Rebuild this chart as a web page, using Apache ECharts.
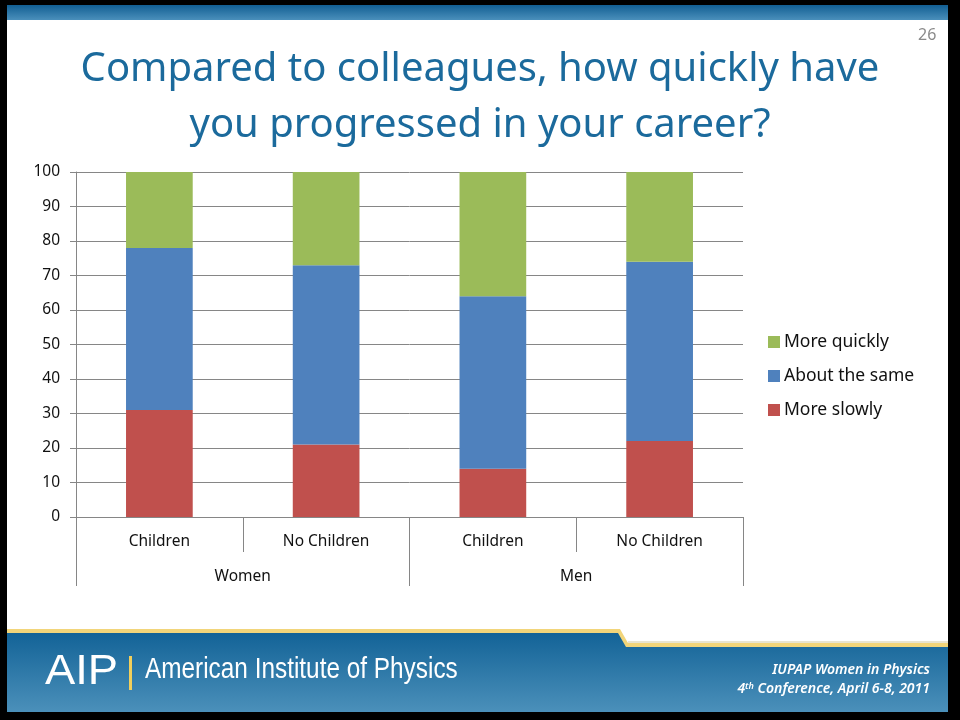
<!DOCTYPE html>
<html>
<head>
<meta charset="utf-8">
<script src="https://cdn.jsdelivr.net/npm/echarts@6/dist/echarts.min.js"></script>
<style>
html,body{margin:0;padding:0;background:#000;}
#c{width:960px;height:720px;}
</style>
</head>
<body>
<div id="c"></div>
<script>
var categories = ['Children', 'No Children', 'Children', 'No Children'];
var groups = ['Women', 'Men'];
var moreSlowly = [31, 21, 14, 22];
var aboutSame = [47, 52, 50, 52];
var moreQuickly = [22, 27, 36, 26];
var yTicks = [0, 10, 20, 30, 40, 50, 60, 70, 80, 90, 100];

var chart = echarts.init(document.getElementById('c'));
var axisGray = '#868686';
var font = "'Noto Sans', 'Open Sans', sans-serif";

var option = {
  backgroundColor: '#000',
  animation: false,
  grid: { left: 76, right: 217, top: 172, bottom: 203, containLabel: false },
  legend: {
    orient: 'vertical',
    left: 763,
    top: 328,
    itemWidth: 12,
    itemHeight: 12,
    itemGap: 16,
    icon: 'rect',
    data: ['More quickly', 'About the same', 'More slowly'],
    textStyle: { fontSize: 17.5, color: '#111', fontFamily: font, padding: [0, 0, 0, -1] }
  },
  xAxis: [
    {
      type: 'category',
      data: categories,
      axisLine: { show: true, lineStyle: { color: axisGray } },
      axisTick: { show: true, length: 35, interval: 0, lineStyle: { color: axisGray } },
      axisLabel: { margin: 17, fontSize: 15.5, color: '#111', fontFamily: font, interval: 0 }
    },
    {
      type: 'category',
      data: groups,
      position: 'bottom',
      offset: 35,
      axisLine: { show: false },
      axisTick: { show: true, length: 34, interval: 0, lineStyle: { color: axisGray } },
      axisLabel: { margin: 17, fontSize: 15.5, color: '#111', fontFamily: font, interval: 0 }
    }
  ],
  yAxis: {
    type: 'value',
    min: yTicks[0],
    max: yTicks[yTicks.length - 1],
    interval: 10,
    axisLine: { show: true, lineStyle: { color: axisGray } },
    axisTick: { show: true, length: 6, lineStyle: { color: axisGray } },
    axisLabel: { margin: 16, fontSize: 15.5, color: '#111', fontFamily: font },
    splitLine: { show: true, lineStyle: { color: axisGray, width: 1 } }
  },
  series: [
    { name: 'More slowly', type: 'bar', stack: 't', data: moreSlowly, barWidth: '40%', itemStyle: { color: '#C0504D' } },
    { name: 'About the same', type: 'bar', stack: 't', data: aboutSame, barWidth: '40%', itemStyle: { color: '#4F81BD' } },
    { name: 'More quickly', type: 'bar', stack: 't', data: moreQuickly, barWidth: '40%', itemStyle: { color: '#9BBB59' } }
  ],
  graphic: [
    { type: 'rect', z: -10, shape: { x: 7, y: 5, width: 941, height: 707 }, style: { fill: '#fff' }, silent: true },
    { type: 'rect', z: -9, shape: { x: 7, y: 5, width: 941, height: 15 },
      style: { fill: new echarts.graphic.LinearGradient(0, 0, 0, 1, [{ offset: 0, color: '#125f93' }, { offset: 1, color: '#4a8fbb' }]) }, silent: true },
    { type: 'polygon', z: -9, shape: { points: [[628, 641], [948, 641], [948, 650], [628, 650]] },
      style: { fill: '#e9e4d0' }, silent: true },
    { type: 'polygon', z: -9, shape: { points: [[7, 629], [620, 629], [628, 643], [948, 643], [948, 712], [7, 712]] },
      style: { fill: '#F2D57A' }, silent: true },
    { type: 'polygon', z: -8, shape: { points: [[7, 633], [618, 633], [626, 647], [948, 647], [948, 712], [7, 712]] },
      style: { fill: new echarts.graphic.LinearGradient(0, 0, 0, 1, [{ offset: 0, color: '#136397' }, { offset: 1, color: '#4b90ba' }]) }, silent: true },
    { type: 'text', left: 'center', top: 42, z: 5,
      style: { text: 'Compared to colleagues, how quickly have\nyou progressed in your career?', fill: '#1B6A9C', font: "40px 'Noto Sans', sans-serif", textAlign: 'center', lineHeight: 56 } },
    { type: 'text', left: 918, top: 27, z: 5, style: { text: '26', fill: '#8a8a8a', font: "16px 'Noto Sans', sans-serif" } },
    { type: 'text', x: 45, y: 651, scaleX: 1.08, z: 5, style: { text: 'AIP', fill: '#fff', font: "42px 'Liberation Sans', sans-serif" } },
    { type: 'rect', z: 5, shape: { x: 129, y: 656, width: 3, height: 34 }, style: { fill: '#F2CF5B' } },
    { type: 'text', x: 145, y: 655, scaleX: 0.84, z: 5, style: { text: 'American Institute of Physics', fill: '#fff', font: "29px 'Liberation Sans', sans-serif" } },
    { type: 'text', right: 30, top: 663, z: 5, style: { text: 'IUPAP Women in Physics', fill: '#fff', font: "italic 600 14px 'Noto Sans', sans-serif", textAlign: 'right' } },
    { type: 'text', right: 30, top: 682, z: 5, style: {
        text: '{n|4}{s|th}{n| Conference, April 6-8, 2011}',
        rich: {
          n: { fill: '#fff', font: "italic 600 14px 'Noto Sans', sans-serif" },
          s: { fill: '#fff', font: "italic 600 9px 'Noto Sans', sans-serif", verticalAlign: 'top', padding: [0, 0, 6, 0] }
        }
      } }
  ]
};
chart.setOption(option);
</script>
</body>
</html>
